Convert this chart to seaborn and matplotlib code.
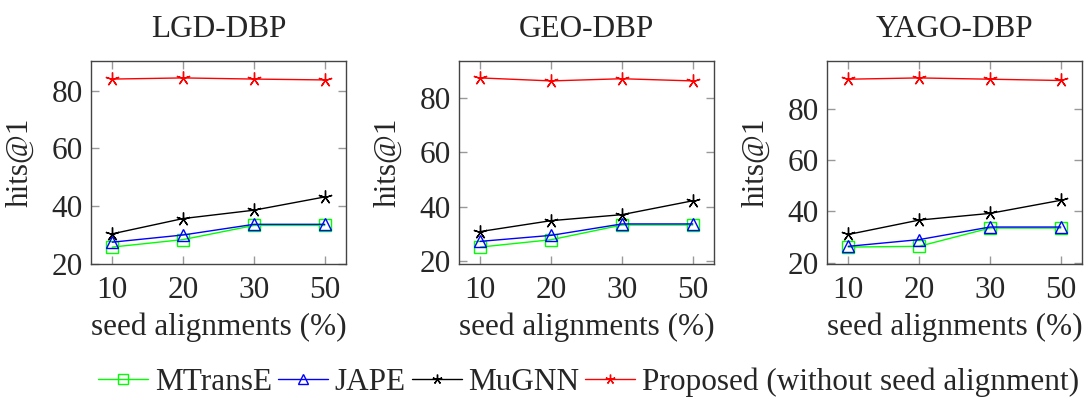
import numpy as np
import pandas as pd
import matplotlib
matplotlib.use("Agg")
import matplotlib.pyplot as plt
import seaborn as sns

seeds = ["10", "20", "30", "50"]
methods = ["MTransE", "JAPE", "MuGNN", "Proposed (without seed alignment)"]
datasets = ["LGD-DBP", "GEO-DBP", "YAGO-DBP"]

lgd_mtranse = [25.7, 28.3, 33.2, 33.2]
lgd_jape = [27.4, 29.9, 33.6, 33.6]
lgd_mugnn = [30.3, 35.6, 38.5, 43.1]
lgd_proposed = [84.0, 84.4, 84.0, 83.7]

geo_mtranse = [25.2, 27.9, 33.3, 33.3]
geo_jape = [27.3, 29.5, 33.7, 33.7]
geo_mugnn = [30.9, 34.9, 37.1, 42.2]
geo_proposed = [87.3, 86.2, 87.0, 86.2]

yago_mtranse = [26.1, 26.4, 33.5, 33.5]
yago_jape = [26.4, 29.0, 33.9, 33.9]
yago_mugnn = [31.0, 36.6, 39.2, 44.3]
yago_proposed = [91.4, 91.9, 91.4, 90.9]

panel_values = {
    "LGD-DBP": [lgd_mtranse, lgd_jape, lgd_mugnn, lgd_proposed],
    "GEO-DBP": [geo_mtranse, geo_jape, geo_mugnn, geo_proposed],
    "YAGO-DBP": [yago_mtranse, yago_jape, yago_mugnn, yago_proposed],
}

colors = {"MTransE": "#00ff00", "JAPE": "#0000ff", "MuGNN": "#000000",
          "Proposed (without seed alignment)": "#ff0000"}
markers = {"MTransE": "s", "JAPE": "^", "MuGNN": (5, 2, 0),
           "Proposed (without seed alignment)": (5, 2, 0)}
hollow = ("MTransE", "JAPE")

sns.set_style("ticks")
plt.rcParams["font.family"] = ["Liberation Serif", "DejaVu Serif"]
plt.rcParams["font.size"] = 22.5

fig = plt.figure(figsize=(10.86, 4.0), dpi=100)
lefts = [91, 459, 827]

for i, name in enumerate(datasets):
    ax = fig.add_axes([lefts[i] / 1086, 136 / 400, 255 / 1086, 203 / 400])
    rows = []
    for m, vals in zip(methods, panel_values[name]):
        for j, v in enumerate(vals):
            rows.append({"pos": j, "method": m, "hits": v})
    df = pd.DataFrame(rows)
    for m in methods:
        sub = df[df["method"] == m]
        sns.lineplot(data=sub, x="pos", y="hits", ax=ax, color=colors[m],
                     marker=markers[m], markersize=8 if m in hollow else 10,
                     markerfacecolor="none" if m in hollow else colors[m],
                     markeredgecolor=colors[m], markeredgewidth=1.0,
                     linewidth=1.0, label=m, legend=False)
    # pgfplots-style 10% enlarged limits
    lo, hi = df["hits"].min(), df["hits"].max()
    pad = 0.1 * (hi - lo)
    ax.set_ylim(lo - pad, hi + pad)
    ax.set_xlim(-0.3, 3.3)
    ax.set_xticks(range(len(seeds)))
    ax.set_xticklabels(seeds)
    ax.set_yticks([20, 40, 60, 80])
    ax.tick_params(direction="in", length=6, width=1, color="#999999",
                   top=True, right=True, labelsize=22.5)
    ax.tick_params(axis="x", pad=9)
    ax.tick_params(axis="y", pad=6)
    for s in ax.spines.values():
        s.set_color("#444444")
        s.set_linewidth(1.0)
    ax.set_title(name, fontsize=22.5, pad=17)
    ax.set_xlabel("seed alignments (%)", fontsize=22.5)
    ax.set_ylabel("hits@1", fontsize=22.5)
    ax.xaxis.set_label_coords(0.5, -0.24)
    ax.yaxis.set_label_coords(-0.22, 0.5)

handles = [plt.Line2D([], [], color=colors[m], marker=markers[m], linewidth=1.0,
                      markersize=7, markeredgewidth=1.0,
                      markerfacecolor="none" if m in hollow else colors[m])
           for m in methods]
fig.legend(handles, methods, loc="center", bbox_to_anchor=(0.542, 0.045), ncol=4,
           frameon=False, fontsize=22.5, handlelength=1.6, handletextpad=0.2,
           columnspacing=0.2, borderaxespad=0)

fig.savefig("out.png", dpi=100)
